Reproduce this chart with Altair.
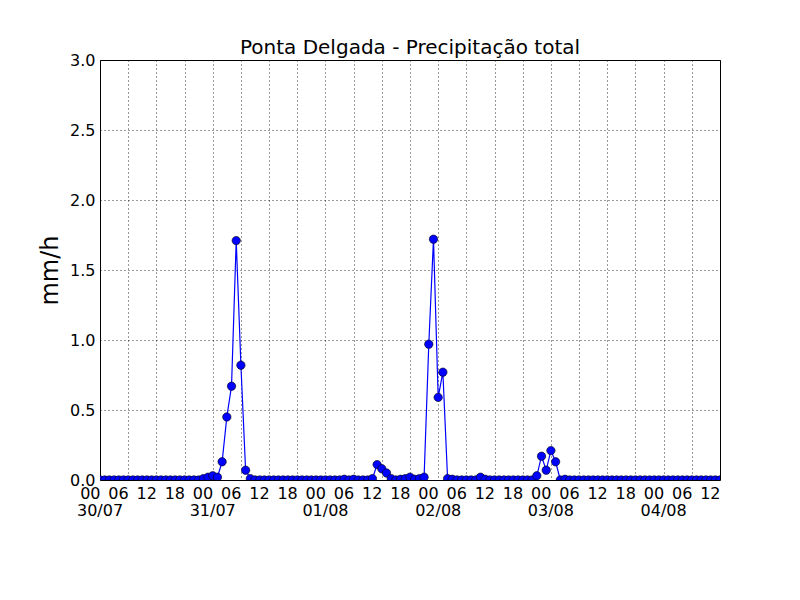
import altair as alt
import pandas as pd

# hourly precipitation (mm/h), one row per day, starting 30/07 00:00
day_3007 = [0, 0, 0, 0, 0, 0, 0, 0, 0, 0, 0, 0, 0, 0, 0, 0, 0, 0, 0, 0, 0, 0, 0.01, 0.02]
day_3107 = [0.03, 0.02, 0.13, 0.45, 0.67, 1.71, 0.82, 0.07, 0.01, 0, 0, 0, 0, 0, 0, 0, 0, 0, 0, 0, 0, 0, 0, 0]
day_0108 = [0, 0, 0, 0, 0.005, 0, 0.005, 0, 0, 0, 0.01, 0.11, 0.08, 0.05, 0.01, 0, 0.005, 0.01, 0.02, 0.005, 0.01, 0.02, 0.97, 1.72]
day_0208 = [0.59, 0.77, 0.01, 0.005, 0, 0, 0, 0, 0, 0.02, 0.005, 0, 0, 0, 0, 0, 0, 0, 0, 0, 0, 0.03, 0.17, 0.07]
day_0308 = [0.21, 0.13, 0, 0.005, 0, 0, 0, 0, 0, 0, 0, 0, 0, 0, 0, 0, 0, 0, 0, 0, 0, 0, 0, 0]
day_0408 = [0, 0, 0, 0, 0, 0, 0, 0, 0, 0, 0, 0, 0]

precip = day_3007 + day_3107 + day_0108 + day_0208 + day_0308 + day_0408
# hours elapsed since 30/07 00:00
hours = list(range(len(precip)))

day_labels = ["30/07", "31/07", "01/08", "02/08", "03/08", "04/08"]
day_hours = [0, 24, 48, 72, 96, 120]

x_ticks = [0, 6, 12, 18, 24, 30, 36, 42, 48, 54, 60, 66, 72, 78, 84, 90, 96, 102,
           108, 114, 120, 126, 132]
y_ticks = [0.0, 0.5, 1.0, 1.5, 2.0, 2.5, 3.0]

df = pd.DataFrame({"hour": hours, "precip": precip})
days = pd.DataFrame({"hour": day_hours, "label": day_labels})

FONT = "DejaVu Sans"
W, H = 620, 420

xscale = alt.Scale(domain=[0, 132], nice=False, zero=False)

xaxis = alt.Axis(
    title=None,
    values=x_ticks,
    labelExpr="(datum.value % 24 < 10 ? '0' : '') + (datum.value % 24)",
    labelAlign="right",
    labelBaseline="top",
    labelPadding=5,
    labelFlush=False,
    labelOverlap=False,
    labelSeparation=0,
    labelBound=False,
    ticks=False,
    domain=False,
    grid=True,
    gridColor="black",
    gridDash=[1, 3],
    gridWidth=0.8,
    gridOpacity=1,
    labelFontSize=16,
    labelColor="black",
)

yaxis = alt.Axis(
    title="mm/h",
    values=y_ticks,
    format=".1f",
    ticks=False,
    domain=False,
    grid=True,
    gridColor="black",
    gridDash=[1, 3],
    gridWidth=0.8,
    gridOpacity=1,
    labelFontSize=16,
    labelColor="black",
    labelPadding=5,
    titleFontSize=24,
    titleFontWeight="normal",
    titleColor="black",
    titleX=-50,
    titleY=H / 2,
    titleAngle=270,
    titleAlign="center",
    titleBaseline="middle",
)

base = alt.Chart(df).encode(
    x=alt.X("hour:Q", scale=xscale, axis=xaxis),
    y=alt.Y("precip:Q", scale=alt.Scale(domain=[0, 3.0], nice=False), axis=yaxis),
)

line = base.mark_line(color="#0000ff", strokeWidth=1.2, clip=True)
points = base.mark_point(filled=True, shape="circle", size=70, color="#0000ff",
                         stroke="black", strokeWidth=0.6, opacity=1, clip=True)

date_text = alt.Chart(days).mark_text(
    font=FONT, fontSize=16, color="black", align="center", baseline="alphabetic"
).encode(
    x=alt.X("hour:Q", scale=xscale, axis=xaxis),
    y=alt.value(H + 36),
    text="label:N",
)

chart = alt.layer(line, points, date_text).properties(
    width=W,
    height=H,
    title=alt.TitleParams(
        "Ponta Delgada - Precipitação total",
        font=FONT, fontSize=20, fontWeight="normal", color="black",
        anchor="middle", frame="group", baseline="alphabetic", offset=7, dy=29,
    ),
    autosize=alt.AutoSizeParams(type="none"),
    padding={"left": 92, "top": 52, "right": 72, "bottom": 112},
    background="white",
).configure_view(
    stroke="black", strokeWidth=1
).configure_axis(
    labelFont=FONT, titleFont=FONT
)

chart.save("out.html", embed_options={"renderer": "svg", "actions": False})
